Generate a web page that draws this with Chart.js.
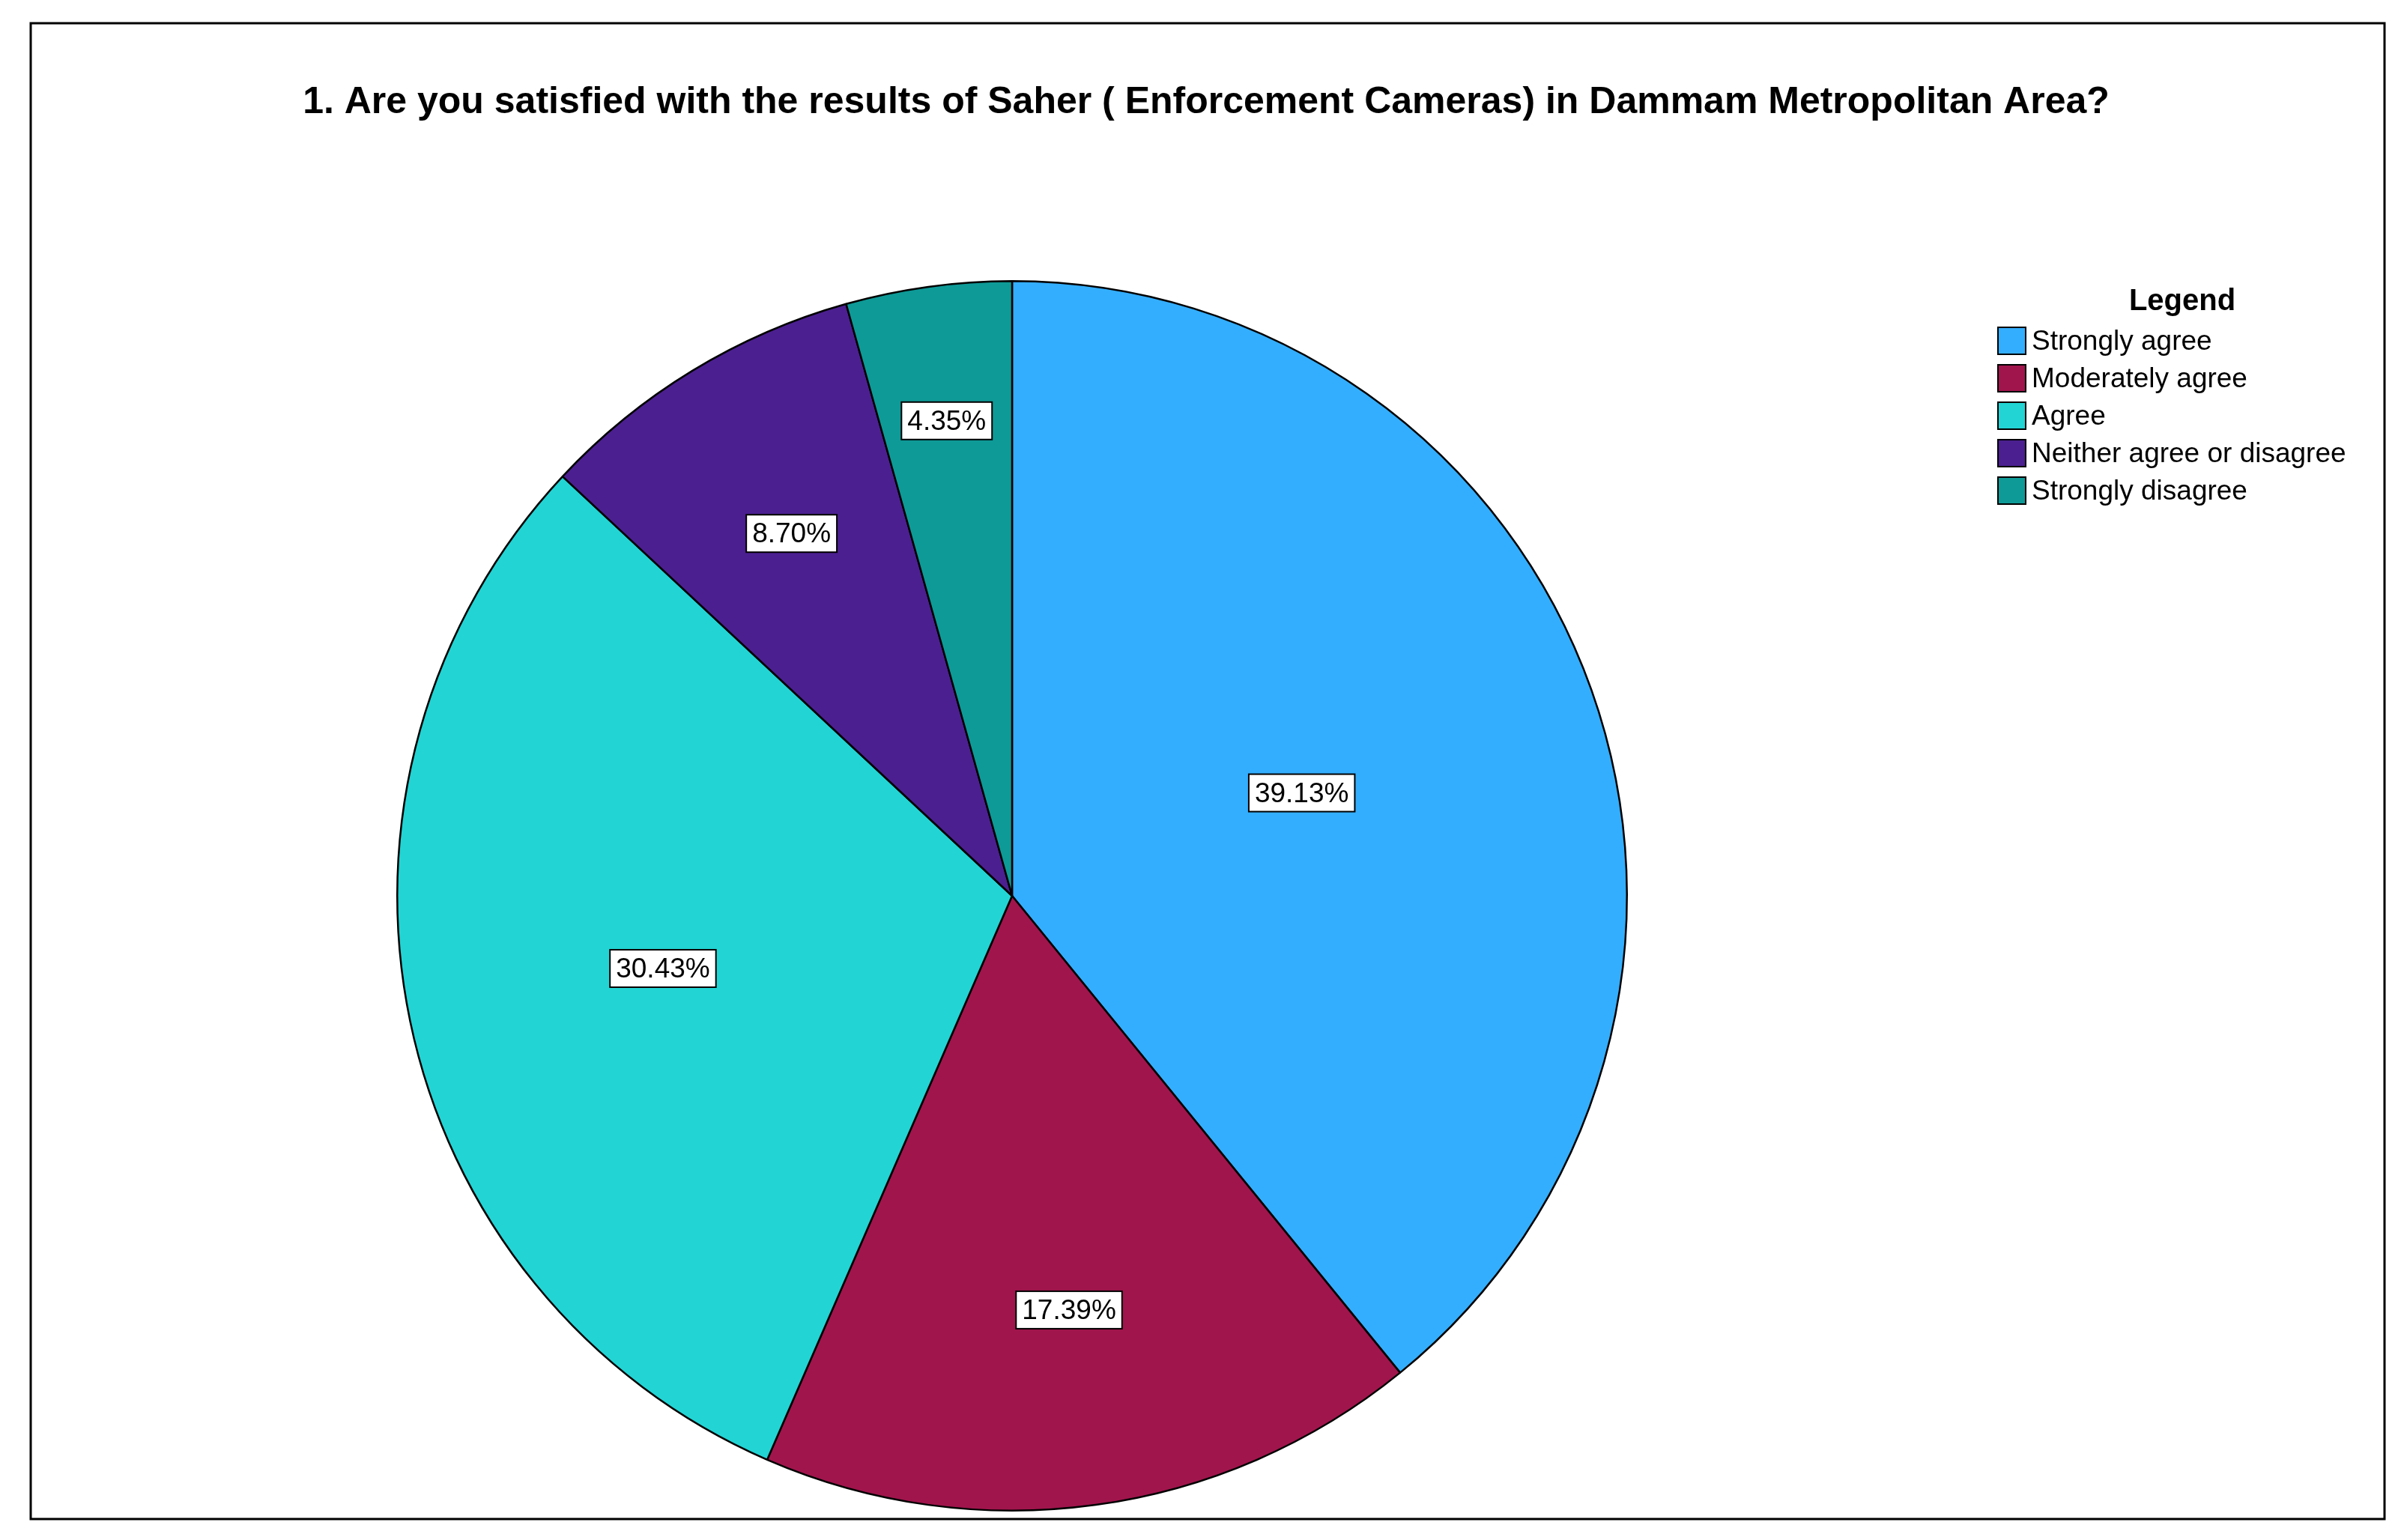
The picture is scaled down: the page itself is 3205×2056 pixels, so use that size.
<!DOCTYPE html>
<html><head><meta charset="utf-8">
<script src="https://cdn.jsdelivr.net/npm/chart.js@4"></script>
<style>html,body{margin:0;padding:0;background:#fff;overflow:hidden}</style>
</head><body>
<canvas id="c" width="3205" height="2056" style="width:3205px;height:2056px"></canvas>
<script>
const categories = ["Strongly agree","Moderately agree","Agree","Neither agree or disagree","Strongly disagree"];
const values = [39.13, 17.39, 30.43, 8.70, 4.35];
const colors = ["#33AEFF","#A0154C","#22D4D4","#4B1F90","#0E9A97"];
const labelRadius = [0.5, 0.68, 0.58, 0.69, 0.78];
const titleText = "1. Are you satisfied with the results of Saher ( Enforcement Cameras) in Dammam Metropolitan Area?";

const deco = {
  id:'deco',
  afterDraw(chart){
    const ctx = chart.ctx;
    ctx.save();
    ctx.strokeStyle='#000'; ctx.lineWidth=3;
    ctx.strokeRect(41,31,3142,1997);
    ctx.fillStyle='#000'; ctx.textAlign='center'; ctx.textBaseline='middle';
    ctx.font='bold 50px Arial, "Liberation Sans", sans-serif';
    ctx.fillText(titleText, 1610, 137);
    // legend
    ctx.font='bold 40px Arial, "Liberation Sans", sans-serif';
    ctx.fillText("Legend", 2913, 403);
    ctx.font='37px Arial, "Liberation Sans", sans-serif';
    ctx.textAlign='left';
    categories.forEach((c,i)=>{
      const y = 455 + i*50;
      ctx.fillStyle=colors[i]; ctx.fillRect(2667,y-18,37,36);
      ctx.strokeStyle='#000'; ctx.lineWidth=2; ctx.strokeRect(2667,y-18,37,36);
      ctx.fillStyle='#000'; ctx.fillText(c,2712,y+2);
    });
    // value labels
    const meta = chart.getDatasetMeta(0);
    ctx.textAlign='center';
    meta.data.forEach((arc,i)=>{
      const p = arc.getProps(['x','y','startAngle','endAngle','outerRadius'],true);
      const a=(p.startAngle+p.endAngle)/2, r=p.outerRadius*labelRadius[i];
      const x=p.x+Math.cos(a)*r, y=p.y+Math.sin(a)*r;
      const t=values[i].toFixed(2)+'%';
      const w=ctx.measureText(t).width+16, h=50;
      ctx.fillStyle='#fff'; ctx.fillRect(x-w/2,y-h/2,w,h);
      ctx.strokeStyle='#000'; ctx.lineWidth=2; ctx.strokeRect(x-w/2,y-h/2,w,h);
      ctx.fillStyle='#000'; ctx.fillText(t,x,y+2);
    });
    ctx.restore();
  }
};

new Chart(document.getElementById('c'),{
  type:'pie',
  data:{labels:categories,datasets:[{data:values,backgroundColor:colors,borderColor:'#000',borderWidth:2.5}]},
  options:{responsive:false,animation:false,
    layout:{padding:{left:529,right:1032,top:374,bottom:38}},
    plugins:{legend:{display:false},tooltip:{enabled:false},title:{display:false}}},
  plugins:[deco]
});
</script>
</body></html>
